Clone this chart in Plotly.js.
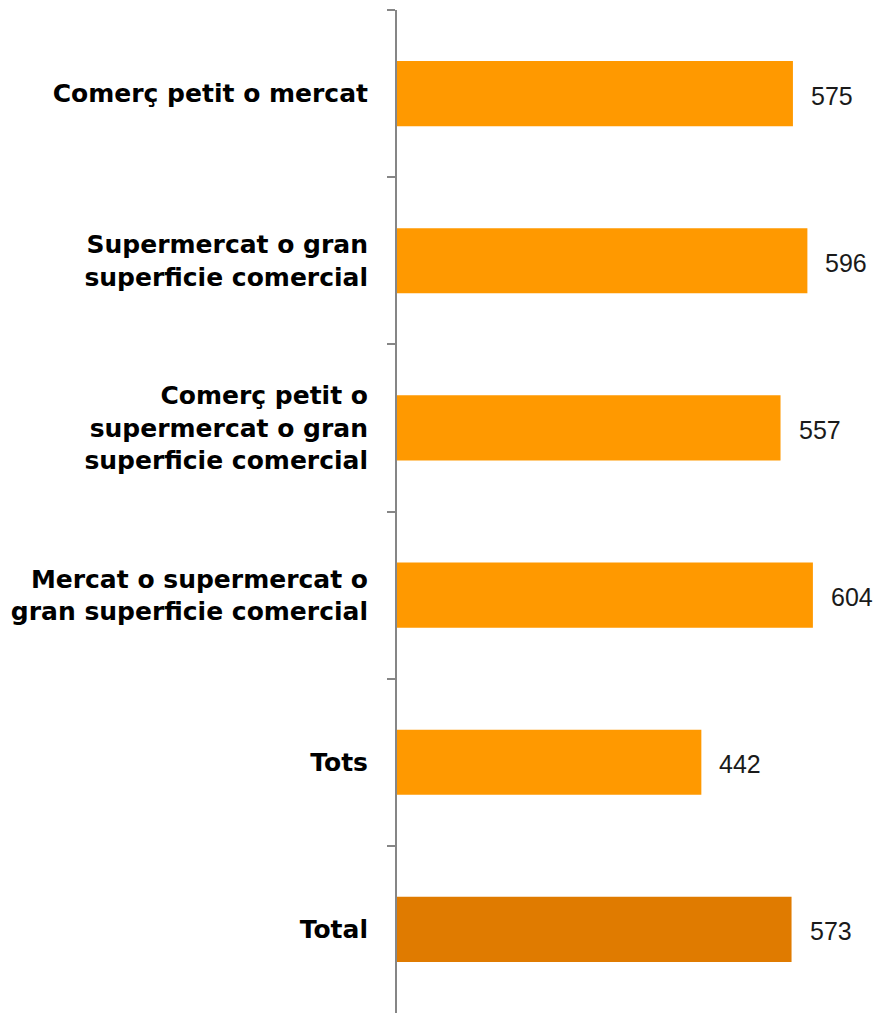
<!DOCTYPE html>
<html>
<head>
<meta charset="utf-8">
<script src="https://cdn.plot.ly/plotly-3.0.1.min.js"></script>
<style>html,body{margin:0;padding:0;background:#fff;}#chart{width:879px;height:1013px;}</style>
</head>
<body>
<div id="chart"></div>
<script>
const categories = [
  "Comerç petit o mercat",
  "Supermercat o gran<br>superficie comercial",
  "Comerç petit o<br>supermercat o gran<br>superficie comercial",
  "Mercat o supermercat o<br>gran superficie comercial",
  "Tots",
  "Total"
];
const values = [575, 596, 557, 604, 442, 573];
const barColors = ["#FF9900", "#FF9900", "#FF9900", "#FF9900", "#FF9900", "#E07B00"];

const annotations = values.map((v, i) => ({
  x: v, y: categories[i], xref: 'x', yref: 'y',
  text: String(v), showarrow: false, xanchor: 'left', xshift: 16, yshift: -2,
  font: {family: 'Liberation Sans, Arial, sans-serif', size: 25, color: '#1a1a1a'}
}));

const trace = {
  type: 'bar', orientation: 'h',
  x: values, y: categories,
  marker: {color: barColors},
  hoverinfo: 'none'
};

const layout = {
  width: 879, height: 1013,
  margin: {l: 397, r: 0, t: 10, b: 0},
  paper_bgcolor: '#fff', plot_bgcolor: '#fff',
  showlegend: false,
  bargap: 0.61,
  xaxis: {range: [0, 700], visible: false, fixedrange: true},
  yaxis: {
    autorange: 'reversed', type: 'category',
    showline: true, linecolor: '#868686', linewidth: 2,
    ticks: 'outside', tickson: 'boundaries', ticklen: 8, tickcolor: '#868686', tickwidth: 2,
    ticklabelstandoff: 22,
    tickfont: {family: 'DejaVu Sans, sans-serif', size: 25, color: '#000', weight: 'bold'},
    showgrid: false, zeroline: false
  },
  annotations: annotations
};

Plotly.newPlot('chart', [trace], layout, {displayModeBar: false, staticPlot: true});
</script>
</body>
</html>
